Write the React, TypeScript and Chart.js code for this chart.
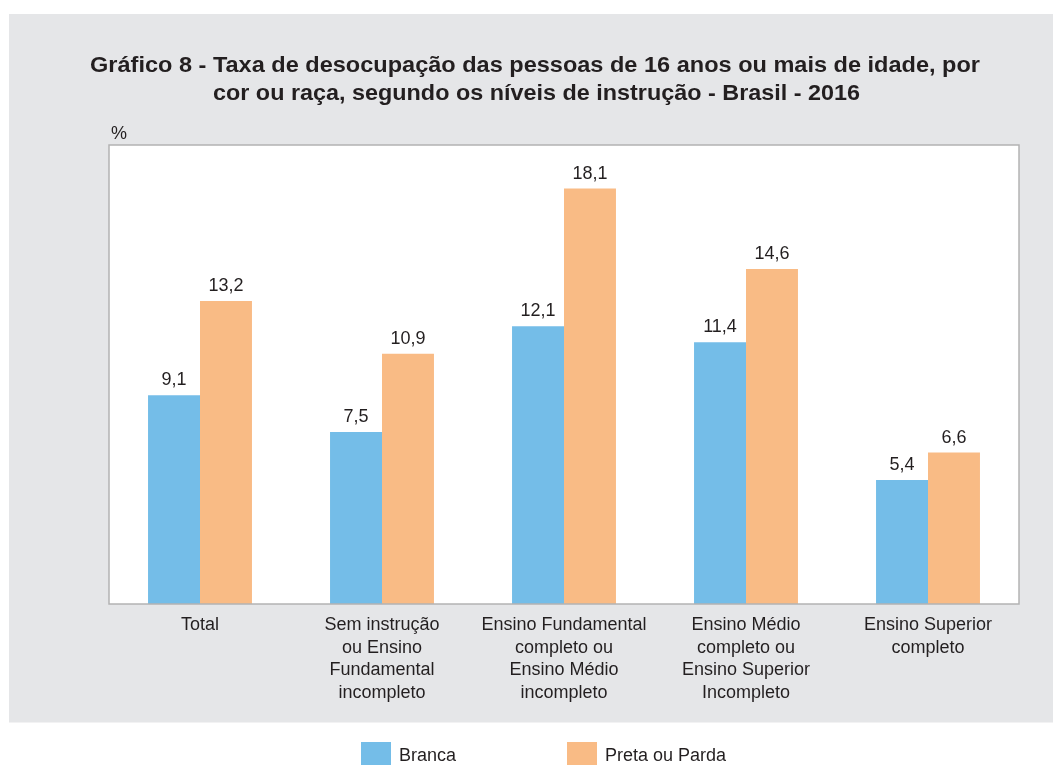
import React, { useEffect, useRef } from "react";
import { Chart, registerables } from "chart.js";

Chart.register(...registerables);

const categories: string[][] = [
  ["Total"],
  ["Sem instrução", "ou Ensino", "Fundamental", "incompleto"],
  ["Ensino Fundamental", "completo ou", "Ensino Médio", "incompleto"],
  ["Ensino Médio", "completo ou", "Ensino Superior", "Incompleto"],
  ["Ensino Superior", "completo"],
];
const branca: number[] = [9.1, 7.5, 12.1, 11.4, 5.4];
const pretaParda: number[] = [13.2, 10.9, 18.1, 14.6, 6.6];
const seriesNames: string[] = ["Branca", "Preta ou Parda"];
const titleLines: string[] = [
  "Gráfico 8 - Taxa de desocupação das pessoas de 16 anos ou mais de idade, por",
  "cor ou raça, segundo os níveis de instrução - Brasil - 2016",
];
const unitLabel = "%";
const yMax = 20;

const BLUE = "#74bde8";
const ORANGE = "#f9bb85";
const PANEL = "#e5e6e8";
const TEXT = "#231f20";
const FONT = "'Liberation Sans', Arial, Helvetica, sans-serif";

const W = 1053;
const H = 765;

function drawStretched(ctx: CanvasRenderingContext2D, text: string, cx: number, y: number, targetW: number) {
  const w = ctx.measureText(text).width;
  const sx = targetW / w;
  ctx.save();
  ctx.translate(cx, y);
  ctx.scale(sx, 1);
  ctx.textAlign = "center";
  ctx.fillText(text, 0, 0);
  ctx.restore();
}

const decorPlugin = {
  id: "decor",
  beforeDraw(chart: any) {
    const { ctx, chartArea } = chart;
    ctx.save();
    ctx.fillStyle = "#ffffff";
    ctx.fillRect(0, 0, W, H);
    ctx.fillStyle = PANEL;
    ctx.fillRect(9, 14, W - 9, 708.5);
    ctx.fillStyle = "#ffffff";
    ctx.fillRect(chartArea.left, chartArea.top, chartArea.right - chartArea.left, chartArea.bottom - chartArea.top);
    // title
    ctx.fillStyle = TEXT;
    ctx.font = `bold 22px ${FONT}`;
    ctx.textBaseline = "alphabetic";
    drawStretched(ctx, titleLines[0], 535, 71.5, 890);
    drawStretched(ctx, titleLines[1], 536.5, 100, 647);
    // unit
    ctx.font = `18px ${FONT}`;
    ctx.textAlign = "left";
    ctx.fillText(unitLabel, 111, 139);
    ctx.restore();
  },
  afterDatasetsDraw(chart: any) {
    const { ctx, chartArea } = chart;
    ctx.save();
    ctx.strokeStyle = "#b3b3b3";
    ctx.lineWidth = 1.5;
    ctx.strokeRect(chartArea.left, chartArea.top, chartArea.right - chartArea.left, chartArea.bottom - chartArea.top);
    // value labels
    ctx.fillStyle = TEXT;
    ctx.font = `18px ${FONT}`;
    ctx.textAlign = "center";
    ctx.textBaseline = "alphabetic";
    chart.data.datasets.forEach((ds: any, di: number) => {
      const meta = chart.getDatasetMeta(di);
      meta.data.forEach((bar: any, i: number) => {
        const v = ds.data[i] as number;
        ctx.fillText(v.toFixed(1).replace(".", ","), bar.x, bar.y - 10);
      });
    });
    // legend
    const legendX = [361, 567];
    chart.data.datasets.forEach((ds: any, di: number) => {
      const x = legendX[di];
      ctx.fillStyle = ds.backgroundColor;
      ctx.fillRect(x, 742, 30, 30);
      ctx.fillStyle = TEXT;
      ctx.textAlign = "left";
      ctx.fillText(ds.label, x + 38, 761);
    });
    ctx.restore();
  },
};

export default function App() {
  const ref = useRef<HTMLCanvasElement | null>(null);
  useEffect(() => {
    if (!ref.current) return;
    const chart = new Chart(ref.current, {
      type: "bar",
      data: {
        labels: categories,
        datasets: [
          { label: seriesNames[0], data: branca, backgroundColor: BLUE, borderWidth: 0 },
          { label: seriesNames[1], data: pretaParda, backgroundColor: ORANGE, borderWidth: 0 },
        ],
      },
      options: {
        animation: false,
        responsive: false,
        maintainAspectRatio: false,
        layout: { padding: { left: 109, right: 34, top: 145, bottom: 0 } },
        plugins: {
          legend: { display: false },
          title: { display: false },
          tooltip: { enabled: false },
        },
        datasets: { bar: { categoryPercentage: 0.571, barPercentage: 1 } },
        scales: {
          x: {
            grid: { display: false, drawTicks: false },
            border: { display: false },
            ticks: {
              autoSkip: false,
              maxRotation: 0,
              minRotation: 0,
              padding: 10,
              color: TEXT,
              font: { family: FONT, size: 18, lineHeight: 1.25 },
            },
            afterFit(scale: any) {
              scale.height = 161;
            },
          },
          y: {
            display: false,
            min: 0,
            max: yMax,
          },
        },
      },
      plugins: [decorPlugin],
    });
    return () => chart.destroy();
  }, []);
  return (
    <div style={{ position: "absolute", left: 0, top: 0, width: W, height: H }}>
      <canvas ref={ref} width={W} height={H} style={{ width: W, height: H, display: "block" }} />
    </div>
  );
}
